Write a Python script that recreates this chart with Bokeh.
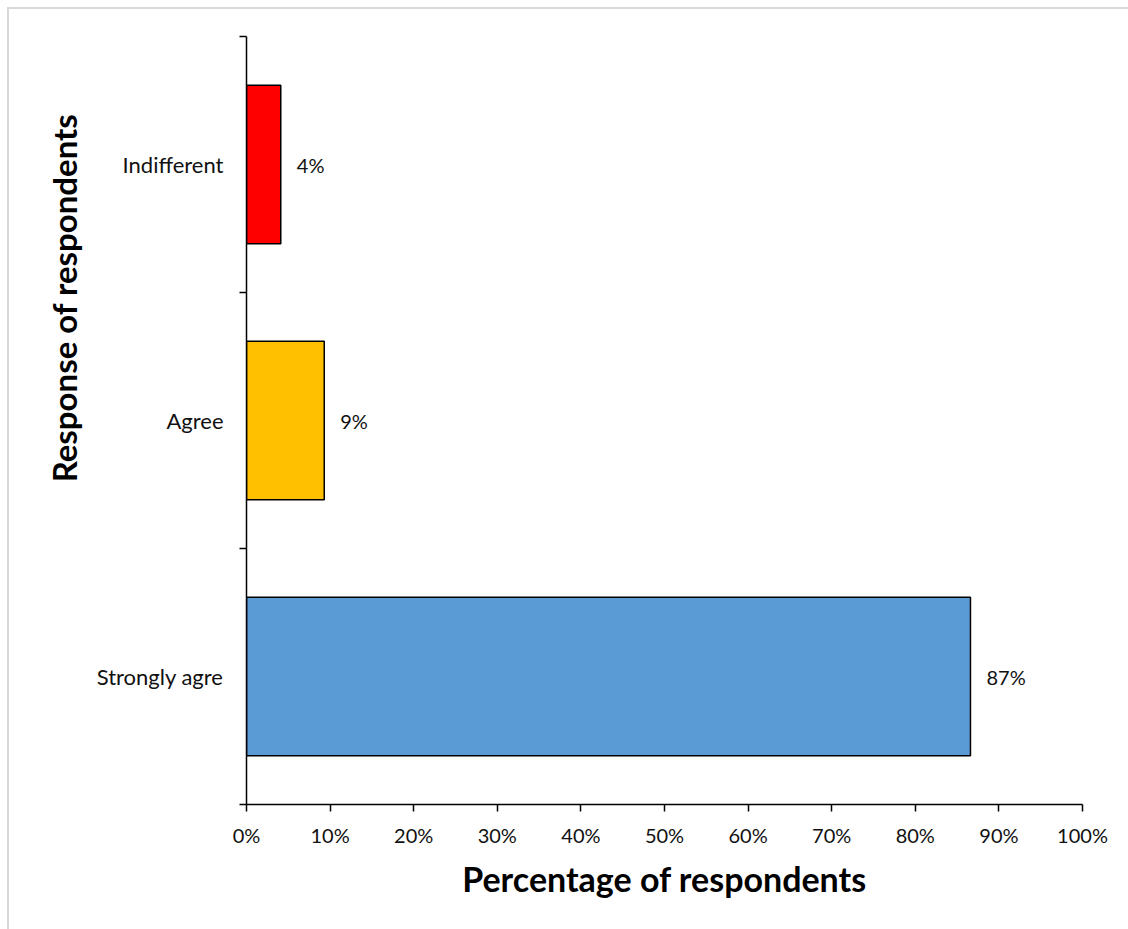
from bokeh.plotting import figure
from bokeh.models import ColumnDataSource, FixedTicker, Range1d, Title
from bokeh.core.properties import value
from bokeh.embed import file_html
from bokeh.resources import INLINE

# Data
categories = ["Strongly agre", "Agree", "Indifferent"]
percentages = [86.6, 9.3, 4.1]
bar_labels = ["87%", "9%", "4%"]
colors = ["#5B9BD5", "#FFC000", "#FF0000"]
x_ticks = [0, 10, 20, 30, 40, 50, 60, 70, 80, 90, 100]
x_tick_labels = ["0%", "10%", "20%", "30%", "40%", "50%", "60%", "70%", "80%", "90%", "100%"]
x_title = "Percentage of respondents"
y_title = "Response of respondents"

ypos = [i + 0.5 for i in range(len(categories))]
src = ColumnDataSource(dict(y=ypos, x=percentages, cat=categories, lab=bar_labels, color=colors))

p = figure(width=1128, height=929, output_backend="svg", toolbar_location=None,
           x_range=Range1d(0, 100), y_range=Range1d(0, len(categories)),
           min_border_left=246, min_border_right=46, min_border_top=36, min_border_bottom=125)

p.background_fill_color = "white"
p.border_fill_alpha = 0
p.outline_line_color = None
p.xgrid.visible = False
p.ygrid.visible = False
p.styles = {
    "background": "linear-gradient(#d9d9d9,#d9d9d9) 7px 7px / 2px 100% no-repeat, "
                  "linear-gradient(#d9d9d9,#d9d9d9) 7px 7px / 100% 2px no-repeat, white"
}

p.hbar(y="y", right="x", left=0, height=0.62, fill_color="color", line_color="black",
       line_width=1.5, source=src)

p.text(x="x", y="y", text="lab", source=src, x_offset=16, text_baseline="middle",
       text_align="left", text_font=value("Lato"), text_font_size="20px", text_color="#111111")

# X axis
xa = p.xaxis[0]
xa.ticker = FixedTicker(ticks=x_ticks, minor_ticks=[])
xa.major_label_overrides = {t: l for t, l in zip(x_ticks, x_tick_labels)}
xa.axis_line_color = "black"
xa.axis_line_width = 1.5
xa.major_tick_line_color = "black"
xa.major_tick_line_width = 1.5
xa.major_tick_in = 0
xa.major_tick_out = 7
xa.minor_tick_line_color = None
xa.major_label_text_font = "Lato"
xa.major_label_text_font_size = "20px"
xa.major_label_text_color = "#111111"
xa.major_label_standoff = 11
xa.axis_label = x_title
xa.axis_label_text_font = "Lato"
xa.axis_label_text_font_style = "bold"
xa.axis_label_text_font_size = "34px"
xa.axis_label_text_color = "black"
xa.axis_label_standoff = 8

# Y axis
ya = p.yaxis[0]
ya.ticker = FixedTicker(ticks=ypos, minor_ticks=[0, 1, 2, 3])
ya.major_label_overrides = {y: c for y, c in zip(ypos, categories)}
ya.axis_line_color = "black"
ya.axis_line_width = 1.5
ya.major_tick_line_color = None
ya.major_tick_in = 0
ya.major_tick_out = 0
ya.minor_tick_line_color = "black"
ya.minor_tick_line_width = 1.5
ya.minor_tick_in = 0
ya.minor_tick_out = 7
ya.major_label_text_font = "Lato"
ya.major_label_text_font_size = "22px"
ya.major_label_text_color = "#111111"
ya.major_label_standoff = 16

p.add_layout(Title(text=y_title, align="right", offset=77, standoff=20,
                   text_font="Lato", text_font_style="bold", text_font_size="33px",
                   text_color="black"), "left")

open("out.html", "w").write(file_html(p, INLINE))
